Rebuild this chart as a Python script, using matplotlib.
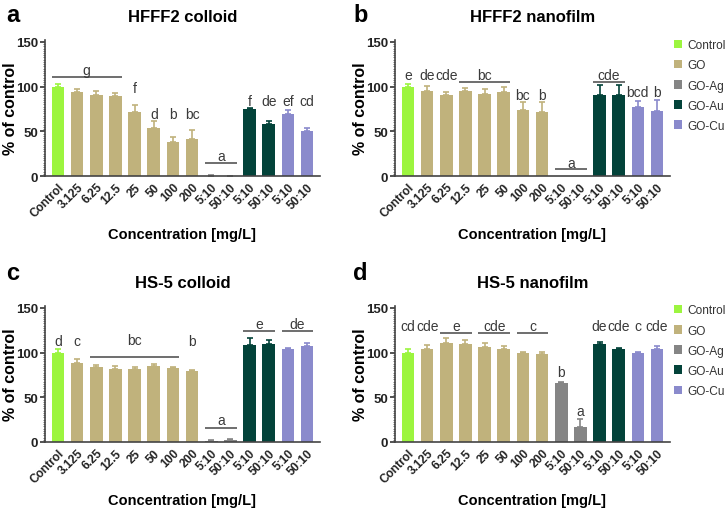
import matplotlib
matplotlib.use("Agg")
import matplotlib.pyplot as plt
from matplotlib.ticker import MultipleLocator
from matplotlib.patches import Patch

plt.rcParams['font.family'] = ['Liberation Sans', 'DejaVu Sans']

# categories (x tick labels) and groups
tick_labels = ['Control', '3.125', '6.25', '12.5', '25', '50', '100', '200',
               '5:10', '50:10', '5:10', '50:10', '5:10', '50:10']
groups = ['Control', 'GO', 'GO', 'GO', 'GO', 'GO', 'GO', 'GO',
          'GO-Ag', 'GO-Ag', 'GO-Au', 'GO-Au', 'GO-Cu', 'GO-Cu']
group_names = ['Control', 'GO', 'GO-Ag', 'GO-Au', 'GO-Cu']
group_colors = {'Control': '#9cf53f', 'GO': '#c0b27c', 'GO-Ag': '#858585',
                'GO-Au': '#03433a', 'GO-Cu': '#8a8acc'}

# panel a: HFFF2 colloid
a_mean = [99.5, 94, 90, 89, 71, 54, 38, 41, 0.5, 0.2, 75, 58.5, 69, 50.6]
a_err = [3.5, 3, 5, 3.5, 8, 8, 5.5, 10, 0.3, 0.2, 1, 2.5, 5, 3]
# letters: (text, first bar, last bar, text y, line y or None)
a_letters = [('g', 0, 3, 118, 111), ('f', 4, 4, 98, None), ('d', 5, 5, 69, None),
             ('b', 6, 6, 69, None), ('bc', 7, 7, 69, None), ('a', 8, 9, 22.5, 14.6),
             ('f', 10, 10, 84, None), ('de', 11, 11, 84, None),
             ('ef', 12, 12, 84, None), ('cd', 13, 13, 84, None)]

# panel b: HFFF2 nanofilm
b_mean = [99.5, 95, 91, 94.5, 92, 94, 73.5, 71, 0, 0, 91, 91, 77.6, 72.4]
b_err = [3.5, 5.5, 3, 3.5, 5, 6, 9.5, 12, 0, 0, 10.5, 10.5, 6.5, 12.5]
b_letters = [('e', 0, 0, 112.5, None), ('de', 1, 1, 112.5, None),
             ('cde', 2, 2, 112.5, None), ('bc', 3, 5, 112.5, 105),
             ('bc', 6, 6, 90, None), ('b', 7, 7, 90, None), ('a', 8, 9, 15, 7.5),
             ('cde', 10, 11, 112.5, 105), ('bcd', 12, 12, 94, None),
             ('b', 13, 13, 94, None)]

# panel c: HS-5 colloid
c_mean = [100, 88, 84.3, 81.3, 81.3, 84.6, 83, 79, 0.8, 2.5, 108, 109, 103.4, 107]
c_err = [4, 5, 1.7, 3.3, 2.7, 2.7, 1, 2, 1.6, 1, 8, 4.5, 1.5, 3.5]
c_letters = [('d', 0, 0, 112.4, None), ('c', 1, 1, 112.4, None),
             ('bc', 2, 6, 113.5, 95.5), ('b', 7, 7, 112.4, None),
             ('a', 8, 9, 24.3, 15.7), ('e', 10, 11, 132, 123.6),
             ('de', 12, 13, 132, 123.6)]

# panel d: HS-5 nanofilm
d_mean = [100, 103.4, 110.5, 109.7, 106.4, 103.4, 99.3, 97.8, 66, 16.9,
          109.7, 103.4, 99.3, 103.4]
d_err = [4, 5.2, 5.2, 3.8, 4.5, 3.6, 1.4, 2.9, 1.4, 8.9, 2.3, 1.8, 1.4, 4.1]
d_letters = [('cd', 0, 0, 130, None), ('cde', 1, 1, 130, None),
             ('e', 2, 3, 130, 121.7), ('cde', 4, 5, 130, 121.7),
             ('c', 6, 7, 130, 121.7), ('b', 8, 8, 78, None), ('a', 9, 9, 34.8, None),
             ('de', 10, 10, 130, None), ('cde', 11, 11, 130, None),
             ('c', 12, 12, 130, None), ('cde', 13, 13, 130, None)]

W, H = 725, 510
fig = plt.figure(figsize=(W / 100, H / 100), dpi=100)

BAR_W = 0.66


def px_axes(x0, x1, ytop, ybot):
    return fig.add_axes([x0 / W, 1 - ybot / H, (x1 - x0) / W, (ybot - ytop) / H])


def draw_panel(ax, means, errs, letters, title):
    xs = list(range(len(means)))
    colors = [group_colors[g] for g in groups]
    ax.bar(xs, means, width=BAR_W, color=colors, zorder=2)
    for x, m, e, c in zip(xs, means, errs, colors):
        if e > 0:
            ax.errorbar(x, m, yerr=[[0], [e]], color=c, capsize=2.5,
                        elinewidth=1.2, capthick=1.2, zorder=1)
    for text, i0, i1, ty, ly in letters:
        ax.text((i0 + i1) / 2, ty, text, ha='center', va='center',
                fontsize=10, color='#3a3a3a')
        if ly is not None:
            ax.plot([i0 - BAR_W / 2, i1 + BAR_W / 2], [ly, ly],
                    color='#555555', lw=1.2, solid_capstyle='butt')
    ax.set_xlim(-0.68, 13.68)
    ax.set_ylim(0, 152)
    ax.set_yticks([0, 50, 100, 150])
    ax.yaxis.set_minor_locator(MultipleLocator(2.5))
    ax.tick_params(axis='y', which='major', length=3.5, width=1.1,
                   labelsize=9.5, colors='#222222', pad=1.5)
    ax.tick_params(axis='y', which='minor', length=1.8, width=0.5,
                   colors='#444444')
    for lab in ax.get_yticklabels():
        lab.set_fontweight('bold')
    ax.set_xticks(xs)
    ax.set_xticklabels(tick_labels, rotation=45, ha='right',
                       rotation_mode='anchor', fontsize=8.6, fontweight='bold',
                       color='#222222')
    ax.tick_params(axis='x', length=0, pad=3.5)
    for s in ['top', 'right']:
        ax.spines[s].set_visible(False)
    for s in ['left', 'bottom']:
        ax.spines[s].set_color('#444444')
        ax.spines[s].set_linewidth(1.2)
    ax.set_ylabel('% of control', fontsize=11.5, fontweight='bold')
    ax.set_xlabel('Concentration [mg/L]', fontsize=10.5, fontweight='bold')
    ax.set_title(title, fontsize=12, fontweight='bold', pad=14)


ax_a = px_axes(45, 320, 41, 177)
ax_b = px_axes(395, 670, 41, 177)
ax_c = px_axes(45, 320, 307, 443)
ax_d = px_axes(395, 670, 307, 443)

draw_panel(ax_a, a_mean, a_err, a_letters, 'HFFF2 colloid')
draw_panel(ax_b, b_mean, b_err, b_letters, 'HFFF2 nanofilm')
draw_panel(ax_c, c_mean, c_err, c_letters, 'HS-5 colloid')
draw_panel(ax_d, d_mean, d_err, d_letters, 'HS-5 nanofilm')

for ax in (ax_a, ax_b, ax_c, ax_d):
    ax.xaxis.set_label_coords(0.5, -0.375)
    ax.yaxis.set_label_coords(-0.098, 0.5)

handles = [Patch(facecolor=group_colors[g], edgecolor='none') for g in group_names]
for top in (0.921, 0.401):
    fig.legend(handles, group_names, loc='upper left',
               bbox_to_anchor=(0.929, top), frameon=False, fontsize=8.6,
               handlelength=0.7, handleheight=0.7, handletextpad=0.45,
               labelspacing=0.68, borderpad=0, borderaxespad=0,
               labelcolor='#333333')

for letter, x, y in [('a', 6, 4), ('b', 353, 4), ('c', 6, 262), ('d', 353, 262)]:
    fig.text(x / W, 1 - y / H, letter, fontsize=17, fontweight='bold',
             ha='left', va='top')

fig.savefig('out.png', dpi=100)
